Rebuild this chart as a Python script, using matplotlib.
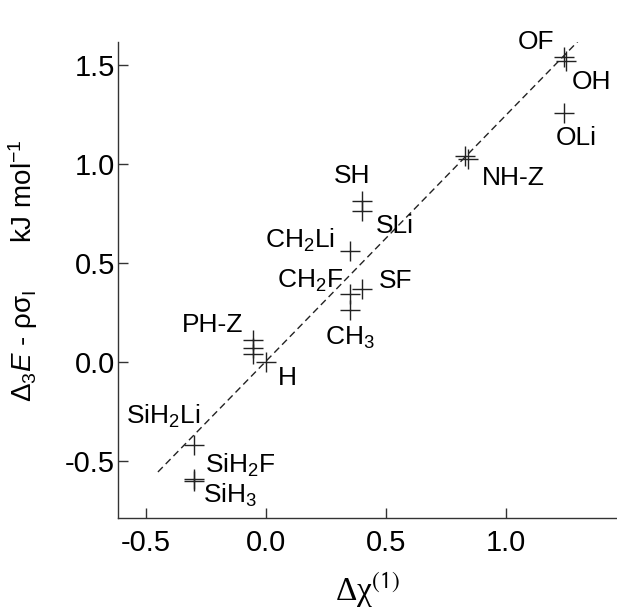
import numpy as np
import matplotlib
matplotlib.use('Agg')
from matplotlib import pyplot as plt

plt.rcParams['font.family'] = ['Liberation Sans', 'DejaVu Sans']
plt.rcParams['mathtext.fontset'] = 'custom'
plt.rcParams['mathtext.rm'] = 'Liberation Sans'
plt.rcParams['mathtext.it'] = 'Liberation Sans:italic'
plt.rcParams['mathtext.bf'] = 'Liberation Sans:bold'

# substituent data
chi = [1.24, 1.25, 1.24, 0.83, 0.84, 0.40, 0.40, 0.35, 0.40, 0.35, 0.35,
       -0.053, -0.053, -0.053, 0.0, -0.30, -0.30, -0.30]
dE = [1.54, 1.52, 1.26, 1.04, 1.025, 0.813, 0.763, 0.561, 0.369, 0.343, 0.263,
      0.111, 0.070, 0.040, 0.0, -0.42, -0.59, -0.60]

# regression line end points
fit_x = [-0.45, 1.30]
fit_y = [-0.556, 1.62]

labels = ['OF', 'OH', 'OLi', 'NH-Z', 'SH', 'SLi', r'CH$_2$Li', r'CH$_2$F', 'SF',
          r'CH$_3$', 'PH-Z', 'H', r'SiH$_2$Li', r'SiH$_2$F', r'SiH$_3$']
label_x = [1.125, 1.358, 1.292, 1.029, 0.358, 0.5375, 0.142, 0.183, 0.542,
           0.35, -0.221, 0.0875, -0.429, -0.108, -0.15]
label_y = [1.616, 1.414, 1.131, 0.929, 0.939, 0.687, 0.616, 0.409, 0.409,
           0.121, 0.187, -0.081, -0.273, -0.525, -0.672]

fig = plt.figure(figsize=(6.17, 6.10), dpi=100)
ax = fig.add_axes([0.191, 0.151, 0.809, 0.780])

ax.plot(fit_x, fit_y, color='#222222', lw=1.0, dashes=(5, 3))
ax.plot(chi, dE, linestyle='none', marker='+', markersize=14,
        markeredgewidth=1.0, color='#222222')

for t, lx, ly in zip(labels, label_x, label_y):
    ax.text(lx, ly, t, fontsize=19, ha='center', va='center', color='black')

ax.set_xlim(-0.617, 1.4625)
ax.set_ylim(-0.788, 1.616)
ax.set_xticks([-0.5, 0.0, 0.5, 1.0])
ax.set_yticks([-0.5, 0.0, 0.5, 1.0, 1.5])
ax.set_xticklabels(['-0.5', '0.0', '0.5', '1.0'])
ax.set_yticklabels(['-0.5', '0.0', '0.5', '1.0', '1.5'])
ax.tick_params(direction='in', length=7, width=1.0, labelsize=21,
               color='#333333')
ax.tick_params(axis='x', pad=8)
ax.tick_params(axis='y', pad=2)

for s in ['top', 'right']:
    ax.spines[s].set_visible(False)
for s in ['left', 'bottom']:
    ax.spines[s].set_linewidth(1.0)
    ax.spines[s].set_color('#333333')

ax.set_xlabel(r'Δχ$^{\mathsf{(1)}}$', fontsize=24, fontfamily='Liberation Serif',
              math_fontfamily='stix', labelpad=10)
ax.set_ylabel(r'Δ$_3$$\mathit{E}$ - ρσ$_\mathrm{I}$      kJ mol$^{\mathrm{-1}}$',
              fontsize=20)
ax.yaxis.set_label_coords(-0.155, 0.52)

fig.savefig('out.png', dpi=100)
